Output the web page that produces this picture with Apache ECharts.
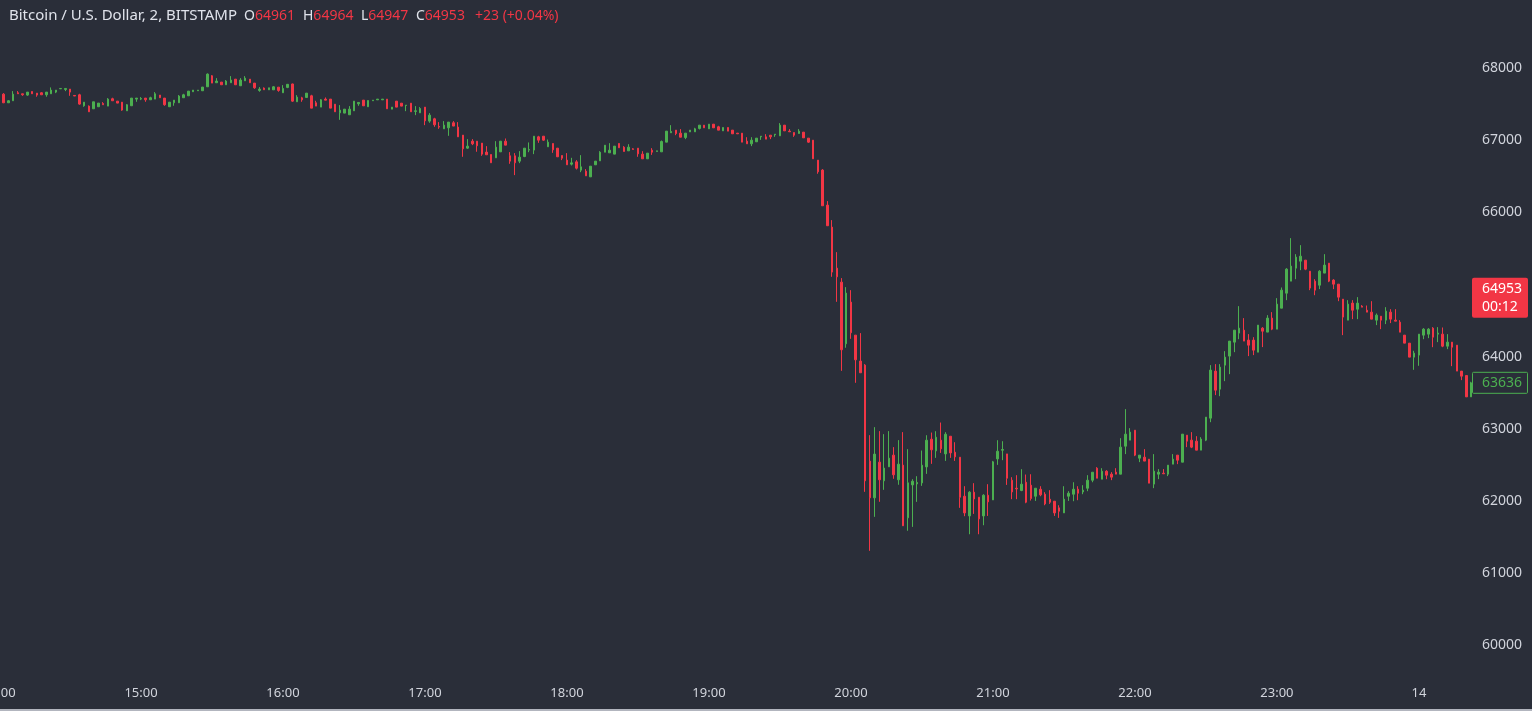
<!DOCTYPE html>
<html><head><meta charset="utf-8">
<script src="https://cdn.jsdelivr.net/npm/echarts@6/dist/echarts.min.js"></script>
<style>html,body{margin:0;padding:0;background:#2a2e39;overflow:hidden;}#c{width:1532px;height:711px;}</style>
</head><body><div id="c"></div>
<script>
// 2-minute candles from 14:00, index 0..311
const opens = [
67600,67639,67519,67547,67658,67644,67626,67676,67653,67658,
67630,67644,67667,67713,67704,67709,67621,67630,67478,67473,
67436,67464,67510,67473,67575,67542,67528,67408,67478,67570,
67570,67584,67561,67570,67626,67584,67464,67519,67519,67589,
67616,67672,67686,67686,67741,67894,67797,67806,67769,67797,
67847,67755,67824,67847,67792,67690,67723,67699,67699,67736,
67658,67732,67780,67533,67588,67593,67616,67519,67459,67570,
67570,67500,67380,67376,67353,67408,67505,67556,67464,67547,
67560,67560,67570,67431,67542,67514,67482,67514,67400,67380,
67459,67265,67297,67191,67158,67172,67242,67182,67071,66890,
66987,66987,66960,66835,66802,66756,66839,66987,66784,66784,
66710,66774,66863,66863,67047,67056,66909,66955,66890,66788,
66724,66668,66700,66585,66571,66492,66659,66714,66834,66825,
66807,66955,66904,66853,66881,66890,66807,66742,66862,66844,
66839,66973,67103,67140,67098,67038,67116,67116,67163,67209,
67158,67223,67186,67130,67177,67140,67098,67098,66987,66950,
66978,67047,67047,67070,67075,67061,67209,67126,67107,67093,
67112,67029,67001,66724,66586,66100,65795,65226,65032,64177,
64755,64297,63937,63881,62550,62041,62536,62277,62471,62633,
62291,62494,61764,62220,62234,62248,62470,62854,62692,62840,
62650,62895,62673,62604,62063,61790,62119,62049,61790,62077,
62012,62581,62701,62650,62285,62174,62142,62257,62216,62063,
62160,62091,62022,61994,61902,61832,62063,62091,62160,62123,
62174,62285,62452,62299,62410,62369,62397,62369,62757,62841,
62979,62591,62605,62577,62231,62369,62383,62369,62508,62633,
62535,62910,62841,62827,62702,62841,63146,63798,63548,63881,
64006,64200,64325,64366,64228,64228,64061,64394,64339,64533,
64380,64671,64879,65046,65226,65323,65337,65184,65046,64990,
65157,65295,65060,65004,64796,64505,64741,64657,64699,64643,
64616,64505,64560,64505,64616,64505,64477,64297,64186,63992,
64020,64297,64311,64394,64311,64311,64144,64200,64158,63798,
63737,63441];
const closes = [
67640,67519,67547,67639,67644,67630,67667,67644,67626,67630,
67667,67695,67695,67718,67718,67667,67613,67501,67528,67394,
67533,67515,67492,67570,67547,67515,67418,67492,67584,67584,
67579,67561,67589,67644,67589,67492,67528,67556,67612,67630,
67681,67695,67695,67737,67917,67792,67820,67769,67820,67834,
67769,67834,67861,67797,67727,67709,67700,67727,67741,67690,
67718,67775,67542,67598,67560,67653,67445,67473,67561,67556,
67445,67394,67417,67431,67431,67542,67524,67477,67551,67556,
67570,67570,67436,67459,67459,67473,67487,67394,67408,67440,
67269,67348,67214,67182,67209,67251,67196,67047,66881,66918,
66950,66923,66807,66798,66687,66904,66987,66932,66710,66687,
66765,66890,66872,67056,67001,67001,66973,66867,66770,66751,
66659,66686,66612,66631,66506,66640,66710,66834,66931,66862,
66918,66895,66844,66904,66872,66811,66742,66821,66834,66853,
66982,67126,67121,67093,67042,67098,67140,67158,67209,67172,
67223,67172,67140,67177,67126,67089,67089,66973,66950,67001,
67029,67056,67015,67047,67084,67209,67130,67117,67070,67126,
67033,66973,66742,66562,66091,65814,65171,65106,64094,64880,
64330,63955,63775,62277,62041,62647,62291,62453,62591,62360,
62508,61653,62249,62271,62254,62493,62840,62706,62881,62720,
62923,62664,62609,62049,61832,62119,62026,61749,62077,61985,
62540,62687,62711,62313,62123,62165,62230,61980,62031,62174,
62082,61957,61980,61832,61855,62022,62105,62160,62105,62147,
62285,62396,62313,62410,62355,62328,62369,62744,62924,62952,
62633,62633,62550,62244,62411,62397,62374,62494,62577,62563,
62924,62827,62744,62702,62855,63160,63812,63534,63853,63992,
64214,64366,64394,64214,64158,64089,64436,64352,64533,64380,
64727,64921,65212,65254,65379,65392,65212,64949,64921,65184,
65268,65046,65004,64824,64547,64727,64643,64741,64685,64616,
64519,64574,64505,64630,64519,64491,64338,64186,63992,64047,
64311,64380,64380,64269,64325,64144,64200,64130,63798,63728,
63441,63636];
const lows = [
67590,67515,67519,67547,67644,67616,67616,67644,67603,67630,
67603,67644,67653,67713,67681,67616,67613,67492,67464,67394,
67436,67464,67492,67473,67547,67515,67408,67408,67478,67533,
67556,67533,67561,67570,67589,67478,67464,67478,67519,67589,
67616,67672,67686,67686,67741,67792,67797,67769,67769,67797,
67769,67755,67824,67797,67713,67672,67700,67699,67699,67672,
67658,67722,67533,67533,67533,67593,67445,67473,67459,67556,
67445,67394,67283,67376,67353,67408,67477,67477,67464,67547,
67560,67560,67436,67431,67459,67473,67403,67394,67348,67380,
67209,67242,67186,67158,67158,67061,67196,67047,66770,66881,
66932,66840,66784,66798,66687,66756,66839,66932,66673,66516,
66682,66765,66834,66807,66964,66992,66909,66825,66770,66724,
66659,66650,66594,66557,66506,66492,66659,66714,66834,66825,
66807,66895,66844,66853,66872,66770,66742,66742,66797,66844,
66839,66973,67103,67070,67042,67015,67116,67116,67149,67172,
67158,67172,67140,67130,67126,67089,67089,66973,66950,66918,
66978,67005,67015,67015,67047,67061,67130,67117,67047,67093,
67033,66964,66742,66535,66091,65814,65106,64759,63802,64122,
64246,63636,63775,62124,61306,61777,61986,62152,62471,62305,
62222,61653,61584,61638,61985,62207,62373,62512,62595,62664,
62553,62595,62553,61902,61786,61536,61818,61536,61661,61790,
62012,62498,62563,62220,62022,62022,62133,61966,62003,61998,
62063,61938,61957,61790,61763,61832,61998,61994,62008,62091,
62133,62257,62313,62299,62299,62286,62369,62369,62647,62841,
62619,62536,62550,62244,62175,62300,62374,62342,62508,62508,
62535,62744,62730,62702,62702,62827,63090,63465,63451,63659,
63756,64061,64241,64214,64006,64020,64061,64131,64339,64366,
64380,64671,64782,65046,65073,65198,65198,64921,64851,64935,
65157,65032,64935,64768,64297,64505,64519,64519,64685,64616,
64519,64436,64380,64450,64464,64491,64338,64186,63992,63816,
63872,64241,64255,64130,64200,64130,64103,63867,63798,63673,
63441,63441];
const highs = [
67650,67653,67556,67681,67681,67644,67667,67676,67653,67667,
67667,67732,67695,67718,67718,67709,67621,67644,67528,67482,
67533,67515,67528,67584,67589,67542,67528,67501,67584,67584,
67598,67584,67603,67667,67626,67584,67528,67556,67626,67644,
67681,67695,67695,67737,67926,67903,67861,67806,67834,67889,
67847,67861,67889,67847,67792,67737,67732,67727,67750,67736,
67764,67780,67785,67625,67602,67653,67630,67547,67570,67593,
67570,67500,67487,67431,67473,67542,67524,67556,67551,67556,
67570,67570,67570,67459,67542,67514,67487,67514,67473,67459,
67459,67376,67311,67251,67265,67251,67265,67251,67071,67015,
67015,66987,66960,66918,66802,66987,66987,67024,66835,66821,
66849,66890,66969,67056,67061,67056,67010,66955,66890,66788,
66821,66756,66724,66793,66599,66640,66710,66848,66931,66959,
66918,66955,66918,66945,66890,66890,66848,66821,66890,66853,
66996,67126,67209,67140,67154,67098,67140,67172,67209,67209,
67223,67223,67200,67177,67177,67140,67098,67098,67042,67042,
67029,67056,67084,67070,67084,67237,67209,67154,67107,67154,
67112,67029,67001,66724,66599,66156,65892,65448,65088,64963,
64921,64297,64325,63895,62910,63021,62966,62924,62966,62744,
62841,62952,62716,62299,62341,62697,62909,62946,62965,63085,
62951,62895,62812,62604,62202,62133,62244,62049,62091,62230,
62553,62840,62826,62650,62327,62355,62438,62364,62368,62174,
62202,62119,62147,61994,61938,62202,62133,62257,62202,62216,
62355,62396,62466,62452,62424,62397,62452,62868,63271,63007,
62979,62633,62716,62577,62647,62439,62439,62494,62647,62633,
62924,62910,62952,62896,62882,63160,63881,63895,63895,64075,
64214,64366,64699,64533,64311,64269,64436,64408,64574,64616,
64810,64958,65226,65642,65420,65545,65337,65184,65073,65198,
65420,65295,65073,65004,64796,64782,64782,64824,64713,64708,
64768,64597,64560,64685,64657,64657,64505,64297,64186,64080,
64311,64394,64394,64408,64408,64403,64311,64200,64158,63798,
63737,63650];

const hourTickLabels = ['14:00','15:00','16:00','17:00','18:00','19:00','20:00','21:00','22:00','23:00','14'];
const titleText = 'Bitcoin / U.S. Dollar, 2, BITSTAMP';
const ohlcLetters = ['O','H','L','C'];
const ohlcValues = [64961, 64964, 64947, 64953];
const changeText = '+23 (+0.04%)';
const lastPrice = 64953;
const lastTimer = '00:12';
const markedPrice = 63636;
const topCutTick = 69000;

const UP = '#4caf50', DOWN = '#f23645', BG = '#2a2e39', TXT = '#d1d4dc';
const FONT = '"Noto Sans", "Liberation Sans", sans-serif';

const times = opens.map(function (_, i) {
  const m = (14 * 60 + 2 * i) % 1440;
  return String(Math.floor(m / 60)).padStart(2, '0') + ':' + String(m % 60).padStart(2, '0');
});
const candles = opens.map(function (o, i) { return [o, closes[i], lows[i], highs[i]]; });

const chart = echarts.init(document.getElementById('c'));
const legendX = [244, 303, 361, 416];
const legendGraphics = [{
  type: 'text', x: 9, y: 16, z: 100,
  style: { text: titleText, fill: '#e0e3eb', font: '15px ' + FONT, textVerticalAlign: 'middle' }
}];
ohlcLetters.forEach(function (l, k) {
  legendGraphics.push({
    type: 'text', x: legendX[k], y: 16, z: 100,
    style: {
      text: '{w|' + l + '}{r|' + ohlcValues[k] + '}', textVerticalAlign: 'middle', font: '14px ' + FONT,
      rich: { w: { fill: '#e0e3eb', fontSize: 14, fontFamily: FONT }, r: { fill: DOWN, fontSize: 14, fontFamily: FONT } }
    }
  });
});
legendGraphics.push({
  type: 'text', x: 475, y: 16, z: 100,
  style: { text: changeText, fill: DOWN, font: '14px ' + FONT, textVerticalAlign: 'middle' }
});

chart.setOption({
  backgroundColor: BG,
  animation: false,
  grid: { left: -1, right: 61, top: -4, bottom: 66, containLabel: false, outerBoundsMode: 'none' },
  xAxis: {
    type: 'category', data: times, boundaryGap: false,
    axisLine: { show: false }, axisTick: { show: false }, splitLine: { show: false },
    axisLabel: {
      interval: function (i) { return i % 30 === 0; },
      formatter: function (v, i) { return hourTickLabels[i / 30] || ''; },
      color: TXT, fontSize: 13, fontFamily: FONT, margin: 42, hideOverlap: false
    }
  },
  yAxis: {
    type: 'value', position: 'right', min: 60000, max: 69000, interval: 1000,
    axisLine: { show: false }, axisTick: { show: false }, splitLine: { show: false },
    axisLabel: { color: TXT, fontSize: 14, fontFamily: FONT, margin: 11, showMaxLabel: true, showMinLabel: true, formatter: function (v) { return String(v); } }
  },
  series: [{
    type: 'candlestick', data: candles, barWidth: 2, clip: true,
    itemStyle: { color: UP, color0: DOWN, borderColor: UP, borderColor0: DOWN, borderWidth: 1 }
  }],
  graphic: legendGraphics
});

const yLast = chart.convertToPixel({ yAxisIndex: 0 }, lastPrice);
const yMark = chart.convertToPixel({ yAxisIndex: 0 }, markedPrice);
const yTop = chart.convertToPixel({ yAxisIndex: 0 }, topCutTick);
chart.setOption({
  graphic: legendGraphics.concat([
    { type: 'text', z: 99, x: 1482, y: yTop, style: { text: String(topCutTick), fill: TXT, font: '14px ' + FONT, textVerticalAlign: 'middle' } },
    { type: 'rect', z: 100, shape: { x: 1472, y: yLast - 10, width: 56, height: 40, r: 2 }, style: { fill: DOWN } },
    { type: 'text', z: 101, x: 1482, y: yLast + 1, style: { text: String(lastPrice), fill: '#ffffff', font: '14px ' + FONT, textVerticalAlign: 'middle' } },
    { type: 'text', z: 101, x: 1482, y: yLast + 19, style: { text: lastTimer, fill: '#ffffff', font: '14px ' + FONT, textVerticalAlign: 'middle' } },
    { type: 'rect', z: 100, shape: { x: 1472.5, y: yMark - 10.5, width: 55, height: 21, r: 1 }, style: { fill: BG, stroke: UP, lineWidth: 1 } },
    { type: 'text', z: 101, x: 1482, y: yMark, style: { text: String(markedPrice), fill: UP, font: '14px ' + FONT, textVerticalAlign: 'middle' } },
    { type: 'rect', z: 100, shape: { x: 0, y: 709, width: 1532, height: 2 }, style: { fill: '#b2b5be' } }
  ])
});
</script>
</body></html>
